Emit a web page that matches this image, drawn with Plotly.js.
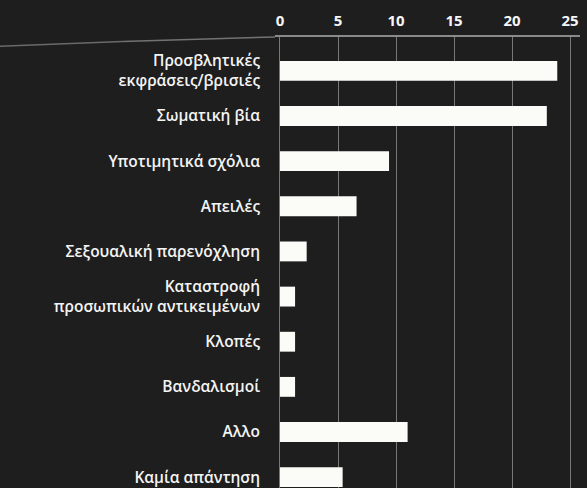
<!DOCTYPE html>
<html>
<head>
<meta charset="utf-8">
<script src="https://cdn.plot.ly/plotly-3.0.1.min.js"></script>
<style>html,body{margin:0;padding:0;background:#1d1d1d;}#chart{width:587px;height:488px;}</style>
</head>
<body>
<div id="chart"></div>
<script>
const categories = [
  "Προσβλητικές<br>εκφράσεις/βρισιές",
  "Σωματική βία",
  "Υποτιμητικά σχόλια",
  "Απειλές",
  "Σεξουαλική παρενόχληση",
  "Καταστροφή<br>προσωπικών αντικειμένων",
  "Κλοπές",
  "Βανδαλισμοί",
  "Αλλο",
  "Καμία απάντηση"
];
const values = [23.9, 23.0, 9.4, 6.6, 2.3, 1.3, 1.3, 1.3, 11.0, 5.4];
const tickValues = [0, 5, 10, 15, 20, 25];

const trace = {
  type: 'bar',
  orientation: 'h',
  x: values,
  y: categories,
  marker: {color: '#fbfbf8', line: {width: 0}},
  width: 0.44,
  hoverinfo: 'skip'
};

const layout = {
  width: 587,
  height: 488,
  margin: {l: 275, r: 7, t: 37, b: 0},
  paper_bgcolor: '#1e1e1e',
  plot_bgcolor: '#1e1e1e',
  showlegend: false,
  font: {family: '"Open Sans", "Noto Sans", sans-serif', color: '#f4f4f4'},
  xaxis: {
    side: 'top',
    range: [-0.43, 25.86],
    tickvals: tickValues,
    ticktext: tickValues.map(String),
    tickfont: {size: 15, color: '#f6f6f6', family: '"Open Sans", sans-serif', weight: 'bold'},
    showgrid: true,
    gridcolor: 'rgba(210,210,210,0.5)',
    gridwidth: 1,
    zeroline: false,
    showline: true,
    linecolor: 'rgba(210,210,210,0.6)',
    linewidth: 2,
    ticks: '',
    ticklabelstandoff: 3
  },
  yaxis: {
    type: 'category',
    range: [9.24, -0.75],
    tickfont: {size: 15.5, color: '#f4f4f4', family: '"Open Sans", "Noto Sans", sans-serif', weight: 600},
    showgrid: false,
    zeroline: false,
    showline: false,
    ticks: '',
    ticklabelstandoff: 14
  },
  shapes: [
    {type: 'line', xref: 'paper', yref: 'paper', x0: -0.95, y0: 0.978, x1: -0.5, y1: 0.99,
     line: {color: 'rgba(200,200,200,0.45)', width: 1.5}},
    {type: 'line', xref: 'paper', yref: 'paper', x0: -0.5, y0: 0.99, x1: 0, y1: 1,
     line: {color: 'rgba(200,200,200,0.5)', width: 1.5}}
  ]
};

Plotly.newPlot('chart', [trace], layout, {displayModeBar: false, staticPlot: true});
</script>
</body>
</html>
